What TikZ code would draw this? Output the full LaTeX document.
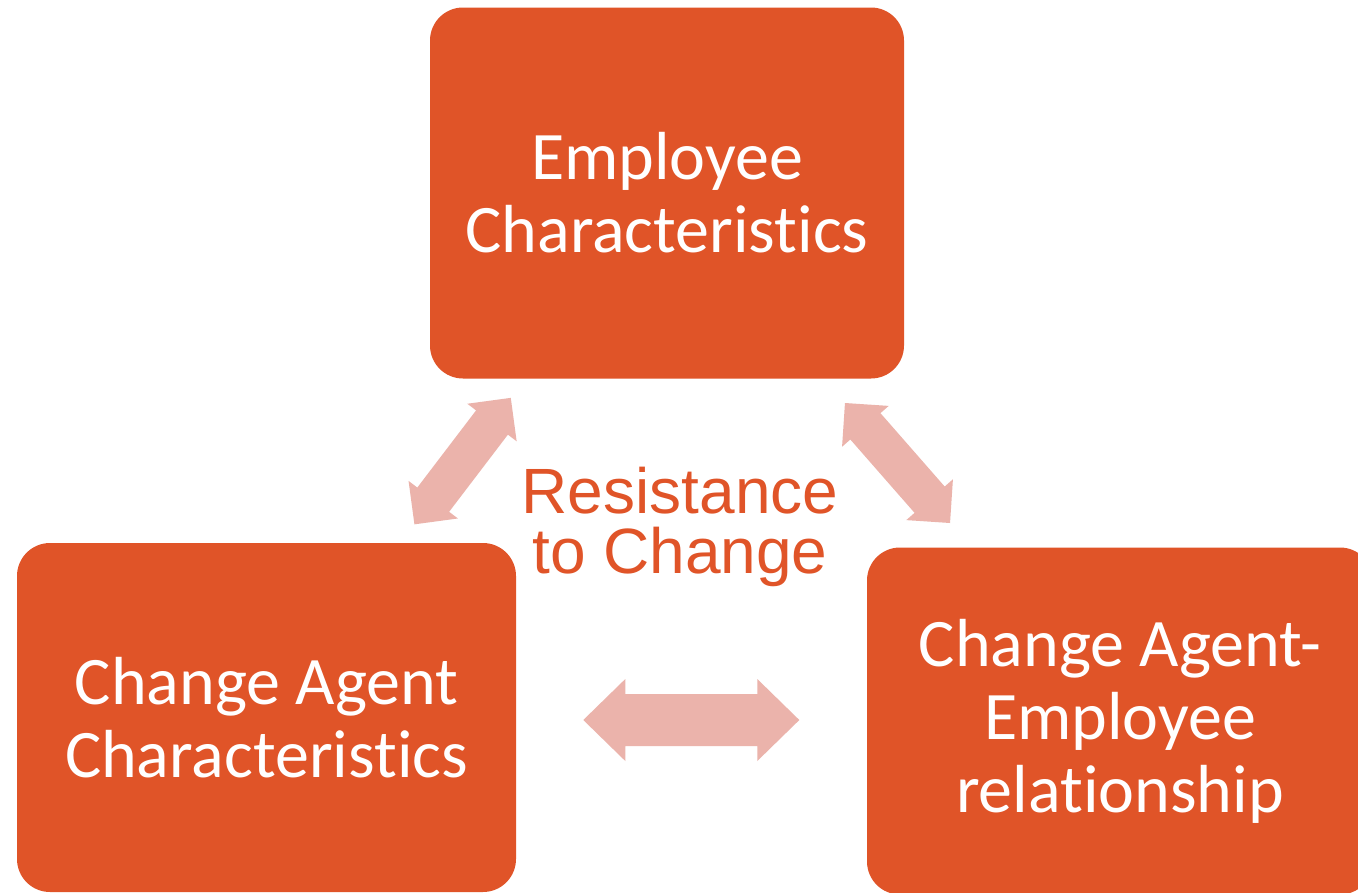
\documentclass[tikz,border=0pt]{standalone}
\usepackage{fontspec}
\setmainfont[Ligatures=NoCommon]{Carlito}
\newfontfamily\arialf{Liberation Sans}
\definecolor{boxorange}{HTML}{E05428}
\definecolor{arrowpink}{HTML}{EBB3AB}
\newcommand{\dblarr}[7]{%
  \begin{scope}[shift={(#1,#2)},rotate=#3]
    \fill[arrowpink] (-#4/2,0) -- (-#4/2+#7,#6) -- (-#4/2+#7,#5) -- (#4/2-#7,#5) -- (#4/2-#7,#6) -- (#4/2,0)
      -- (#4/2-#7,-#6) -- (#4/2-#7,-#5) -- (-#4/2+#7,-#5) -- (-#4/2+#7,-#6) -- cycle;
  \end{scope}}
\begin{document}
\begin{tikzpicture}[x=1pt,y=-1pt,
  box/.style={fill=boxorange,rounded corners=33pt,text=white,align=center,inner sep=0pt,
    font=\fontsize{68}{73}\selectfont},
  centre/.style={text=boxorange,align=center,inner sep=0pt,font=\arialf\fontsize{64}{60}\selectfont}]
\useasboundingbox (0,0) rectangle (1358,892);
\clip (0,0) rectangle (1358,892);
\fill[white] (0,0) rectangle (1358,892);
\node[box,minimum width=474pt,minimum height=371pt] (emp) at (667,193) {Employee\\Characteristics};
\node[box,minimum width=499pt,minimum height=349pt] (agent) at (266.5,717.5) {Change Agent\\Characteristics};
\node[box,minimum width=506pt,minimum height=347pt] (rel) at (1120,721) {Change Agent-\\Employee\\relationship};
\node[centre] (res) at (680,527) {Resistance\\to Change};
\dblarr{462.6}{461.1}{52.7}{159}{20}{31}{31}
\dblarr{897.5}{463}{-48.8}{159.5}{20}{31}{31}
\dblarr{691.3}{720}{0}{216}{26}{41}{42}
\end{tikzpicture}
\end{document}
